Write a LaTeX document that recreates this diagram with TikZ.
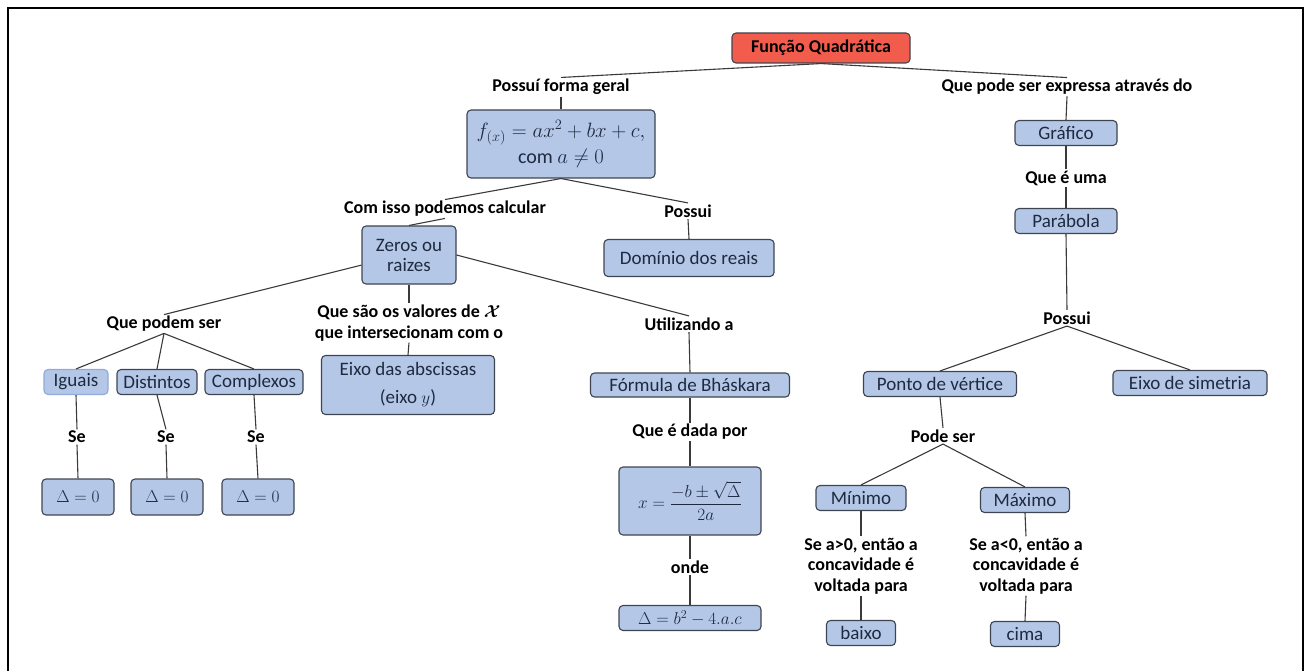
\documentclass[tikz,border=0pt]{standalone}
\usepackage{amsmath}
\usepackage{fontspec}
\setmainfont{Carlito}
\definecolor{boxfill}{HTML}{B4C7E7}
\definecolor{boxborder}{HTML}{3F4550}
\definecolor{boxtext}{HTML}{1E2A40}
\definecolor{rootfill}{HTML}{F25C4C}
\definecolor{linecol}{HTML}{3A3A3A}
\definecolor{lightborder}{HTML}{8FAADC}
\begin{document}
\begin{tikzpicture}[x=1pt,y=-1pt,
  box/.style={draw=boxborder, fill=boxfill, rounded corners=4pt, line width=1.1pt, text=boxtext,
    font=\fontsize{19}{20}\selectfont, inner sep=0pt, align=center},
  mbox/.style={box, font=\fontsize{19}{20}\selectfont},
  lab/.style={font=\bfseries\fontsize{18}{20.5}\selectfont, align=center, inner sep=1.5pt, text=black},
  conn/.style={draw=linecol, line width=1.1pt}]
\useasboundingbox (0,0) rectangle (1309,671);
\draw[line width=2.6pt] (8,671) -- (8,8) -- (1303,8) -- (1303,671);

% root
\node[box, fill=rootfill, text=black, font=\bfseries\fontsize{18}{20}\selectfont, minimum width=178pt, minimum height=30pt] (root) at (821,48) {Função Quadrática};

% left branch
\node[lab] (pfg) at (561,87) {Possuí forma geral};
\node[box, minimum width=188pt, minimum height=68pt, font=\fontsize{20}{25}\selectfont] (form) at (561,144) {$f_{(x)} = ax^2 + bx + c,$\\[1pt]com $a \neq 0$};
\node[lab] (cipc) at (445,209) {Com isso podemos calcular};
\node[lab] (pos1) at (688,211) {Possui};
\node[box, minimum width=94pt, minimum height=58pt] (zeros) at (409,255) {Zeros ou\\raizes};
\node[box, minimum width=170pt, minimum height=37pt] (dom) at (689,258) {Domínio dos reais};
\node[lab] (qps) at (164,324) {Que podem ser};
\node[lab] (qsv) at (409,323) {Que são os valores de $\boldsymbol{\mathcal{X}}$\\que intersecionam com o};
\node[lab] (uti) at (689,324) {Utilizando a};

\node[box, draw=lightborder, minimum width=64pt, minimum height=25pt] (ig) at (76,382) {Iguais};
\node[box, minimum width=80pt, minimum height=25pt] (dis) at (157,382) {Distintos};
\node[box, minimum width=98pt, minimum height=25pt] (comp) at (254,382) {Complexos};
\node[lab] (se1) at (77,437) {Se};
\node[lab] (se2) at (166,437) {Se};
\node[lab] (se3) at (256,437) {Se};
\node[mbox, minimum width=72pt, minimum height=36pt] (d1) at (78,497) {$\Delta = 0$};
\node[mbox, minimum width=72pt, minimum height=36pt] (d2) at (167,497) {$\Delta = 0$};
\node[mbox, minimum width=72pt, minimum height=36pt] (d3) at (258,497) {$\Delta = 0$};

\node[box, minimum width=173pt, minimum height=59pt, font=\fontsize{19}{28}\selectfont] (eixo) at (408,385) {Eixo das abscissas\\(eixo $y$)};

\node[box, minimum width=199pt, minimum height=24pt] (bhas) at (690,385) {Fórmula de Bháskara};
\node[lab] (qedp) at (690,432) {Que é dada por};
\node[box, minimum width=142pt, minimum height=68pt, font=\fontsize{18}{20}\selectfont] (fx) at (690,501) {$x = \dfrac{-b \pm \sqrt{\Delta}}{2a}$};
\node[lab] (onde) at (690,567) {onde};
\node[box, minimum width=142pt, minimum height=25pt, font=\fontsize{17}{20}\selectfont] (del) at (690,618) {$\Delta = b^2 - 4.a.c$};

% right branch
\node[lab] (qpse) at (1067,87) {Que pode ser expressa através do};
\node[box, minimum width=102pt, minimum height=25pt] (graf) at (1066,133) {Gráfico};
\node[lab] (qeu) at (1066,178) {Que é uma};
\node[box, minimum width=102pt, minimum height=25pt] (parab) at (1066,221) {Parábola};
\node[lab] (pos2) at (1067,318) {Possui};
\node[box, minimum width=153pt, minimum height=25pt] (ponto) at (940,384) {Ponto de vértice};
\node[box, minimum width=154pt, minimum height=25pt] (esim) at (1190,383) {Eixo de simetria};
\node[lab] (pode) at (943,436) {Pode ser};
\node[box, minimum width=90pt, minimum height=25pt] (mini) at (861,498) {Mínimo};
\node[box, minimum width=89pt, minimum height=25pt] (maxi) at (1025,500) {Máximo};
\node[lab] (t1) at (861,566) {Se a>0, então a\\concavidade é\\voltada para};
\node[lab] (t2) at (1026,566) {Se a<0, então a\\concavidade é\\voltada para};
\node[box, minimum width=69pt, minimum height=25pt] (baixo) at (861,633) {baixo};
\node[box, minimum width=69pt, minimum height=25pt] (cima) at (1025,634) {cima};

% connectors
\path[conn] (root.south) -- (pfg.north);
\path[conn] (root.south) -- (qpse.north);
\path[conn] (pfg.south) -- (form.north);
\path[conn] (form.south) -- (cipc.north);
\path[conn] (form.south) -- (pos1.north);
\path[conn] (cipc.south) -- (zeros.north);
\path[conn] (pos1.south) -- (dom.north);
\path[conn] (zeros.192) -- (qps.north);
\path[conn] (zeros.south) -- (qsv.north);
\path[conn] (zeros.east) -- (uti.north);
\path[conn] (qps.south) -- (ig.north);
\path[conn] (qps.south) -- (dis.north);
\path[conn] (qps.south) -- (comp.north);
\path[conn] (qsv.south) -- (eixo.north);
\path[conn] (ig.south) -- (se1.north);
\path[conn] (dis.south) -- (se2.north);
\path[conn] (comp.south) -- (se3.north);
\path[conn] (se1.south) -- (d1.north);
\path[conn] (se2.south) -- (d2.north);
\path[conn] (se3.south) -- (d3.north);
\path[conn] (uti.south) -- (bhas.north);
\path[conn] (bhas.south) -- (qedp.north);
\path[conn] (qedp.south) -- (fx.north);
\path[conn] (fx.south) -- (onde.north);
\path[conn] (onde.south) -- (del.north);
\path[conn] (qpse.south) -- (graf.north);
\path[conn] (graf.south) -- (qeu.north);
\path[conn] (qeu.south) -- (parab.north);
\path[conn] (parab.south) -- (pos2.north);
\path[conn] (pos2.south) -- (ponto.north);
\path[conn] (pos2.south) -- (esim.north);
\path[conn] (ponto.south) -- (pode.north);
\path[conn] (pode.south) -- (mini.north);
\path[conn] (pode.south) -- (maxi.north);
\path[conn] (mini.south) -- (t1.north);
\path[conn] (maxi.south) -- (t2.north);
\path[conn] (t1.south) -- (baixo.north);
\path[conn] (t2.south) -- (cima.north);
\end{tikzpicture}
\end{document}
